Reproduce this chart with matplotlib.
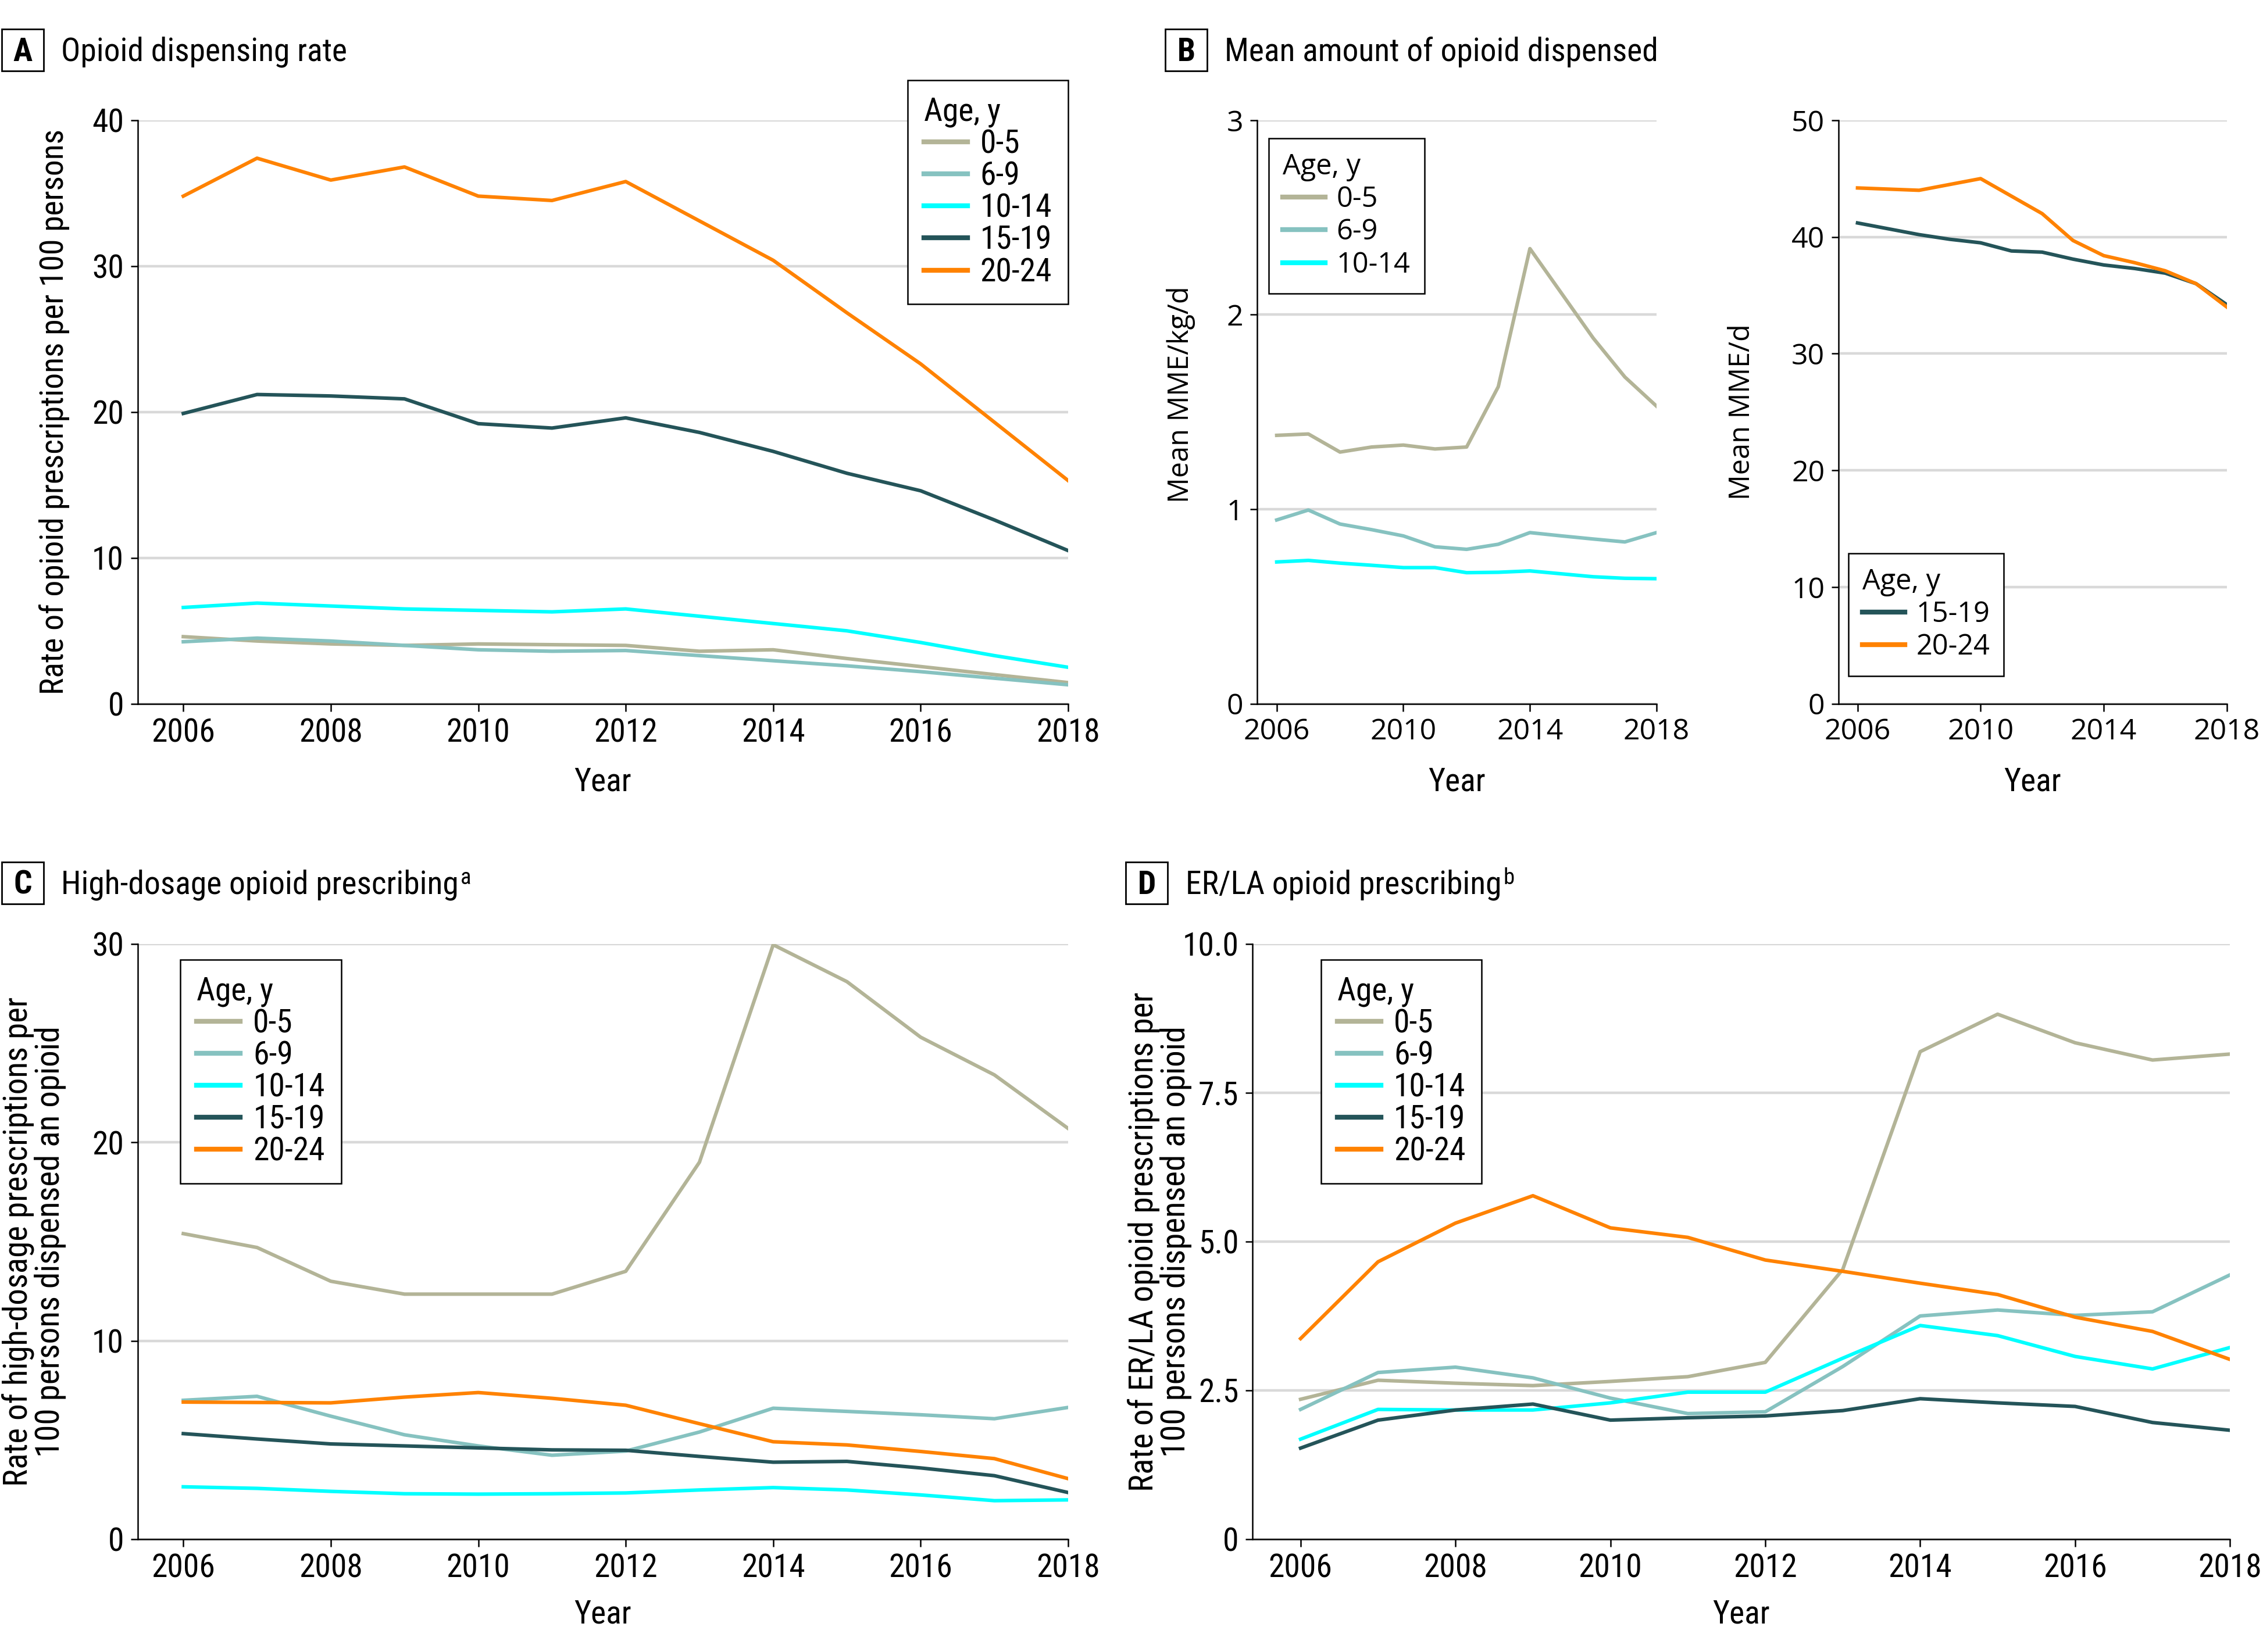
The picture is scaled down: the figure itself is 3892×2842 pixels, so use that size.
import matplotlib
matplotlib.use("Agg")
import matplotlib.pyplot as plt
from matplotlib import font_manager
from matplotlib.font_manager import FontProperties
from matplotlib.patches import Rectangle

years = list(range(2006, 2019))
ages = ["0-5", "6-9", "10-14", "15-19", "20-24"]
colors = {"0-5": "#b3b497", "6-9": "#86c2c0", "10-14": "#00ffff",
          "15-19": "#245459", "20-24": "#ff8200"}

# A: opioid dispensing rate per 100 persons
rate_a = {
    "0-5": [4.6, 4.3, 4.1, 4.0, 4.1, 4.05, 4.0, 3.6, 3.7, 3.1, 2.55, 2.0, 1.45],
    "6-9": [4.25, 4.5, 4.3, 4.0, 3.7, 3.6, 3.65, 3.3, 2.95, 2.6, 2.2, 1.75, 1.3],
    "10-14": [6.6, 6.9, 6.7, 6.5, 6.4, 6.3, 6.5, 6.0, 5.5, 5.0, 4.2, 3.3, 2.5],
    "15-19": [19.9, 21.2, 21.1, 20.9, 19.2, 18.9, 19.6, 18.6, 17.3, 15.8, 14.6, 12.6, 10.5],
    "20-24": [34.8, 37.4, 35.9, 36.8, 34.8, 34.5, 35.8, 33.1, 30.4, 26.8, 23.3, 19.3, 15.3],
}

# B: mean MME/kg/d (younger) and mean MME/d (older)
mme_kg = {
    "0-5": [1.38, 1.387, 1.294, 1.32, 1.33, 1.31, 1.32, 1.63, 2.34, 2.11, 1.88, 1.68, 1.53],
    "6-9": [0.945, 0.996, 0.924, 0.895, 0.863, 0.807, 0.794, 0.82, 0.88, 0.863, 0.847, 0.832, 0.88],
    "10-14": [0.729, 0.737, 0.723, 0.712, 0.70, 0.70, 0.674, 0.676, 0.683, 0.668, 0.653, 0.645, 0.643],
}
mme_d = {
    "15-19": [41.2, 40.7, 40.2, 39.8, 39.5, 38.8, 38.7, 38.1, 37.6, 37.3, 36.9, 36.0, 34.2],
    "20-24": [44.2, 44.1, 44.0, 44.5, 45.0, 43.5, 42.0, 39.7, 38.4, 37.8, 37.1, 36.0, 34.0],
}

# C: high-dosage prescriptions per 100 persons dispensed an opioid
high_dose = {
    "0-5": [15.4, 14.7, 13.0, 12.35, 12.35, 12.35, 13.5, 19.0, 29.96, 28.1, 25.3, 23.4, 20.7],
    "6-9": [7.0, 7.2, 6.2, 5.26, 4.7, 4.23, 4.44, 5.4, 6.6, 6.44, 6.27, 6.07, 6.64],
    "10-14": [2.64, 2.56, 2.41, 2.29, 2.27, 2.29, 2.33, 2.48, 2.6, 2.48, 2.23, 1.94, 1.98],
    "15-19": [5.32, 5.05, 4.8, 4.7, 4.6, 4.5, 4.48, 4.17, 3.88, 3.92, 3.59, 3.2, 2.35],
    "20-24": [6.91, 6.89, 6.87, 7.16, 7.39, 7.1, 6.75, 5.82, 4.91, 4.75, 4.42, 4.06, 3.05],
}

# D: ER/LA prescriptions per 100 persons dispensed an opioid
erla = {
    "0-5": [2.35, 2.67, 2.62, 2.58, 2.65, 2.73, 2.97, 4.53, 8.19, 8.82, 8.34, 8.05, 8.15],
    "6-9": [2.18, 2.80, 2.89, 2.71, 2.37, 2.11, 2.14, 2.9, 3.75, 3.85, 3.76, 3.82, 4.44],
    "10-14": [1.68, 2.18, 2.17, 2.17, 2.29, 2.47, 2.47, 3.04, 3.59, 3.42, 3.07, 2.86, 3.22],
    "15-19": [1.53, 2.0, 2.17, 2.27, 2.0, 2.04, 2.07, 2.16, 2.36, 2.29, 2.23, 1.96, 1.83],
    "20-24": [3.37, 4.66, 5.31, 5.77, 5.23, 5.07, 4.69, 4.5, 4.3, 4.11, 3.73, 3.49, 3.02],
}

# look for a condensed face (the original uses a narrow sans)
narrow_family, narrow_stretch = "DejaVu Sans", "normal"
prefs = ["Roboto Condensed", "Open Sans Condensed", "Liberation Sans Narrow",
         "Noto Sans Condensed", "DejaVu Sans", "Noto Sans", "Roboto", "Open Sans", "Inter"]
found = {}
for f in font_manager.fontManager.ttflist:
    st = str(f.stretch)
    if ("ondensed" in st or "arrow" in f.name or "ondensed" in f.name
            or (isinstance(f.stretch, int) and f.stretch < 500)):
        found.setdefault(f.name, f.stretch)
for p in prefs:
    if p in found:
        narrow_family, narrow_stretch = p, found[p]
        break
else:
    if found:
        narrow_family, narrow_stretch = sorted(found.items())[0]

WIDE = "Open Sans"
plt.rcParams["font.family"] = [narrow_family, "DejaVu Sans"]
plt.rcParams["font.stretch"] = narrow_stretch


def nfp(size, weight="normal"):
    return FontProperties(family=[narrow_family, "DejaVu Sans"], stretch=narrow_stretch,
                          size=size, weight=weight)


def wfp(size):
    return FontProperties(family=[WIDE, "DejaVu Sans"], stretch="normal", size=size)


W, H, DPI = 3892, 2842, 200
fig = plt.figure(figsize=(W / DPI, H / DPI), dpi=DPI)

GRID = "#d9d9d9"
NFS = 20
WFS = 18


def style_axes(ax, ylim, yticks, ytick_labels, xticks, fp):
    ax.set_xlim(2005.38, 2018)
    ax.set_ylim(*ylim)
    ax.set_yticks(yticks)
    ax.set_yticklabels(ytick_labels, fontproperties=fp)
    ax.set_xticks(xticks)
    ax.set_xticklabels([str(x) for x in xticks], fontproperties=fp)
    for s in ["top", "right"]:
        ax.spines[s].set_visible(False)
    for s in ["left", "bottom"]:
        ax.spines[s].set_linewidth(0.9)
    ax.tick_params(direction="out", length=4.5, width=0.9, pad=4)
    ax.yaxis.grid(True, color=GRID, linewidth=1.6)
    ax.set_axisbelow(True)


def add_legend(ax, loc, anchor, fp, spacing, hlen=1.5):
    leg = ax.legend(title="Age, y", loc=loc, bbox_to_anchor=anchor, frameon=True,
                    fancybox=False, edgecolor="black", framealpha=1,
                    borderaxespad=0, handlelength=hlen, handletextpad=0.4,
                    labelspacing=spacing, borderpad=0.5, prop=fp,
                    title_fontproperties=fp)
    leg._legend_box.align = "left"
    leg.get_frame().set_linewidth(0.9)
    for h in leg.legend_handles:
        h.set_linewidth(3.0)
    return leg


def px_x(p):
    return p / W


def px_y(p):
    return 1 - p / H


def panel_title(box_x0, box_y0, text_x, baseline, letter, text, mark=None):
    # box and baseline given in pixels from the top-left corner
    side = 72
    fig.patches.append(Rectangle((px_x(box_x0), px_y(box_y0 + side)), side / W, side / H,
                                 transform=fig.transFigure, fc="white", ec="black",
                                 lw=1.0, zorder=5))
    fig.text(px_x(box_x0 + side / 2), px_y(baseline), letter,
             fontproperties=nfp(20, "bold"), va="baseline", ha="center", zorder=6)
    t = fig.text(px_x(text_x), px_y(baseline), text, fontproperties=nfp(20),
                 va="baseline", ha="left")
    if mark:
        fig.canvas.draw()
        bb = t.get_window_extent().transformed(fig.transFigure.inverted())
        fig.text(bb.x1 + 0.0008, px_y(baseline - 17), mark, fontproperties=nfp(14),
                 va="baseline", ha="left")


LW = 2.2
top_b, top_h = 0.574, 0.3532
bot_b, bot_h = 0.0683, 0.3603

# Panel A
axA = fig.add_axes([0.0608, top_b, 0.4112, top_h])
for a in ages:
    axA.plot(years, rate_a[a], color=colors[a], lw=LW, label=a)
style_axes(axA, (0, 40), [0, 10, 20, 30, 40], ["0", "10", "20", "30", "40"],
           list(range(2006, 2019, 2)), nfp(NFS))
axA.set_ylabel("Rate of opioid prescriptions per 100 persons", fontproperties=nfp(20))
axA.yaxis.set_label_coords(-0.073, 0.5)
axA.set_xlabel("Year", fontproperties=nfp(NFS))
axA.xaxis.set_label_coords(0.5, -0.107)
add_legend(axA, "upper right", (1.0, 1.069), nfp(20), 0.04, 1.35)

# Panel B left
axB1 = fig.add_axes([0.5555, top_b, 0.1765, top_h])
for a in ["0-5", "6-9", "10-14"]:
    axB1.plot(years, mme_kg[a], color=colors[a], lw=LW, label=a)
style_axes(axB1, (0, 3), [0, 1, 2, 3], ["0", "1", "2", "3"],
           [2006, 2010, 2014, 2018], wfp(WFS))
axB1.set_ylabel("Mean MME/kg/d", fontproperties=wfp(17.5))
axB1.yaxis.set_label_coords(-0.155, 0.53)
axB1.set_xlabel("Year", fontproperties=nfp(NFS))
axB1.xaxis.set_label_coords(0.5, -0.107)
add_legend(axB1, "upper left", (0.029, 0.969), wfp(17.5), 0.14)

# Panel B right
axB2 = fig.add_axes([0.8124, top_b, 0.1716, top_h])
for a in ["15-19", "20-24"]:
    axB2.plot(years, mme_d[a], color=colors[a], lw=LW, label=a)
style_axes(axB2, (0, 50), [0, 10, 20, 30, 40, 50], ["0", "10", "20", "30", "40", "50"],
           [2006, 2010, 2014, 2018], wfp(WFS))
axB2.set_ylabel("Mean MME/d", fontproperties=wfp(17.5))
axB2.yaxis.set_label_coords(-0.211, 0.5)
axB2.set_xlabel("Year", fontproperties=nfp(NFS))
axB2.xaxis.set_label_coords(0.5, -0.107)
add_legend(axB2, "lower left", (0.025, 0.048), wfp(17.5), 0.14)

# Panel C
axC = fig.add_axes([0.0608, bot_b, 0.4112, bot_h])
for a in ages:
    axC.plot(years, high_dose[a], color=colors[a], lw=LW, label=a)
style_axes(axC, (0, 30), [0, 10, 20, 30], ["0", "10", "20", "30"],
           list(range(2006, 2019, 2)), nfp(NFS))
axC.set_ylabel("Rate of high-dosage prescriptions per\n100 persons dispensed an opioid",
               fontproperties=nfp(20.5), linespacing=1.0)
axC.yaxis.set_label_coords(-0.0766, 0.5)
axC.set_xlabel("Year", fontproperties=nfp(NFS))
axC.xaxis.set_label_coords(0.5, -0.1)
add_legend(axC, "upper left", (0.046, 0.974), nfp(20), 0.04, 1.35)

# Panel D
axD = fig.add_axes([0.5535, bot_b, 0.4319, bot_h])
for a in ages:
    axD.plot(years, erla[a], color=colors[a], lw=LW, label=a)
style_axes(axD, (0, 10), [0, 2.5, 5, 7.5, 10], ["0", "2.5", "5.0", "7.5", "10.0"],
           list(range(2006, 2019, 2)), nfp(NFS))
axD.set_ylabel("Rate of ER/LA opioid prescriptions per\n100 persons dispensed an opioid",
               fontproperties=nfp(20.5), linespacing=1.0)
axD.yaxis.set_label_coords(-0.062, 0.5)
axD.set_xlabel("Year", fontproperties=nfp(NFS))
axD.xaxis.set_label_coords(0.5, -0.1)
add_legend(axD, "upper left", (0.07, 0.974), nfp(20), 0.04, 1.35)

panel_title(3, 50, 105, 105, "A", "Opioid dispensing rate")
panel_title(2004, 50, 2106, 105, "B", "Mean amount of opioid dispensed")
panel_title(3, 1483, 105, 1538, "C", "High-dosage opioid prescribing", "a")
panel_title(1936, 1483, 2039, 1538, "D", "ER/LA opioid prescribing", "b")

fig.savefig("out.png", dpi=DPI, facecolor="white")
